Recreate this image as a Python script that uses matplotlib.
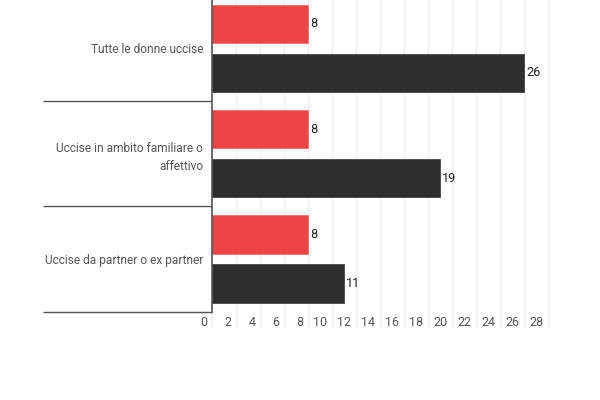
import matplotlib
matplotlib.use("Agg")
import matplotlib.pyplot as plt
from matplotlib.transforms import ScaledTranslation
import numpy as np

plt.rcParams['font.family'] = ['Roboto', 'DejaVu Sans']

categories = ["Tutte le donne uccise", "Uccise in ambito familiare o\naffettivo", "Uccise da partner o ex partner"]
series_red = [8, 8, 8]
series_dark = [26, 19, 11]
xticks = list(range(0, 30, 2))

red = "#ef4444"
dark = "#2e2e2e"

fig = plt.figure(figsize=(6, 4), dpi=100)
ax = fig.add_axes([212.3/600, (400-311.7)/400, 338.4/600, 316.0/400])

y = np.arange(len(categories))
h = 0.363
off = 0.232
ax.barh(y - off, series_red, height=h, color=red, edgecolor="#f07070", linewidth=0.6)
ax.barh(y + off, series_dark, height=h, color=dark, edgecolor="#444444", linewidth=0.6)

for yi, v in zip(y - off, series_red):
    ax.text(v + 0.15, yi, str(v), va='center', ha='left', fontsize=9.2, color="#222222")
for yi, v in zip(y + off, series_dark):
    ax.text(v + 0.15, yi, str(v), va='center', ha='left', fontsize=9.2, color="#222222")

ax.set_xlim(0, 28.2)
ax.set_ylim(2.5, -0.5)

for s in ['top', 'right', 'bottom']:
    ax.spines[s].set_visible(False)
ax.spines['left'].set_color("#555555")
ax.spines['left'].set_linewidth(1.2)

ax.set_xticks(xticks)
ax.set_xticklabels([str(t) for t in xticks])
ax.grid(axis='x', color="#eeeeee", linewidth=0.8)
ax.set_axisbelow(True)
ax.tick_params(axis='x', length=16*0.72, width=0.8, color="#eeeeee", pad=-(16-4.5)*0.72,
               labelsize=9, labelcolor="#555555")
ticks = ax.xaxis.get_major_ticks()
ticks[0].tick1line.set_color("#555555")
ticks[0].tick1line.set_markeredgewidth(1.2)
for lab in ax.get_xticklabels():
    lab.set_ha('right')
    lab.set_transform(lab.get_transform() + ScaledTranslation(-5/100, 0, fig.dpi_scale_trans))

ax.set_yticks(y)
ax.set_yticklabels(categories, fontsize=8.6, color="#555555")
ax.tick_params(axis='y', which='major', length=0, pad=9*0.72)
ax.set_yticks([-0.5, 0.5, 1.5, 2.5], minor=True)
ax.tick_params(axis='y', which='minor', length=169*0.72, width=1.0, color="#555555")
for lab in ax.get_yticklabels():
    lab.set_multialignment('right')
    lab.set_linespacing(1.45)

fig.savefig("out.png", dpi=100, facecolor="white")
